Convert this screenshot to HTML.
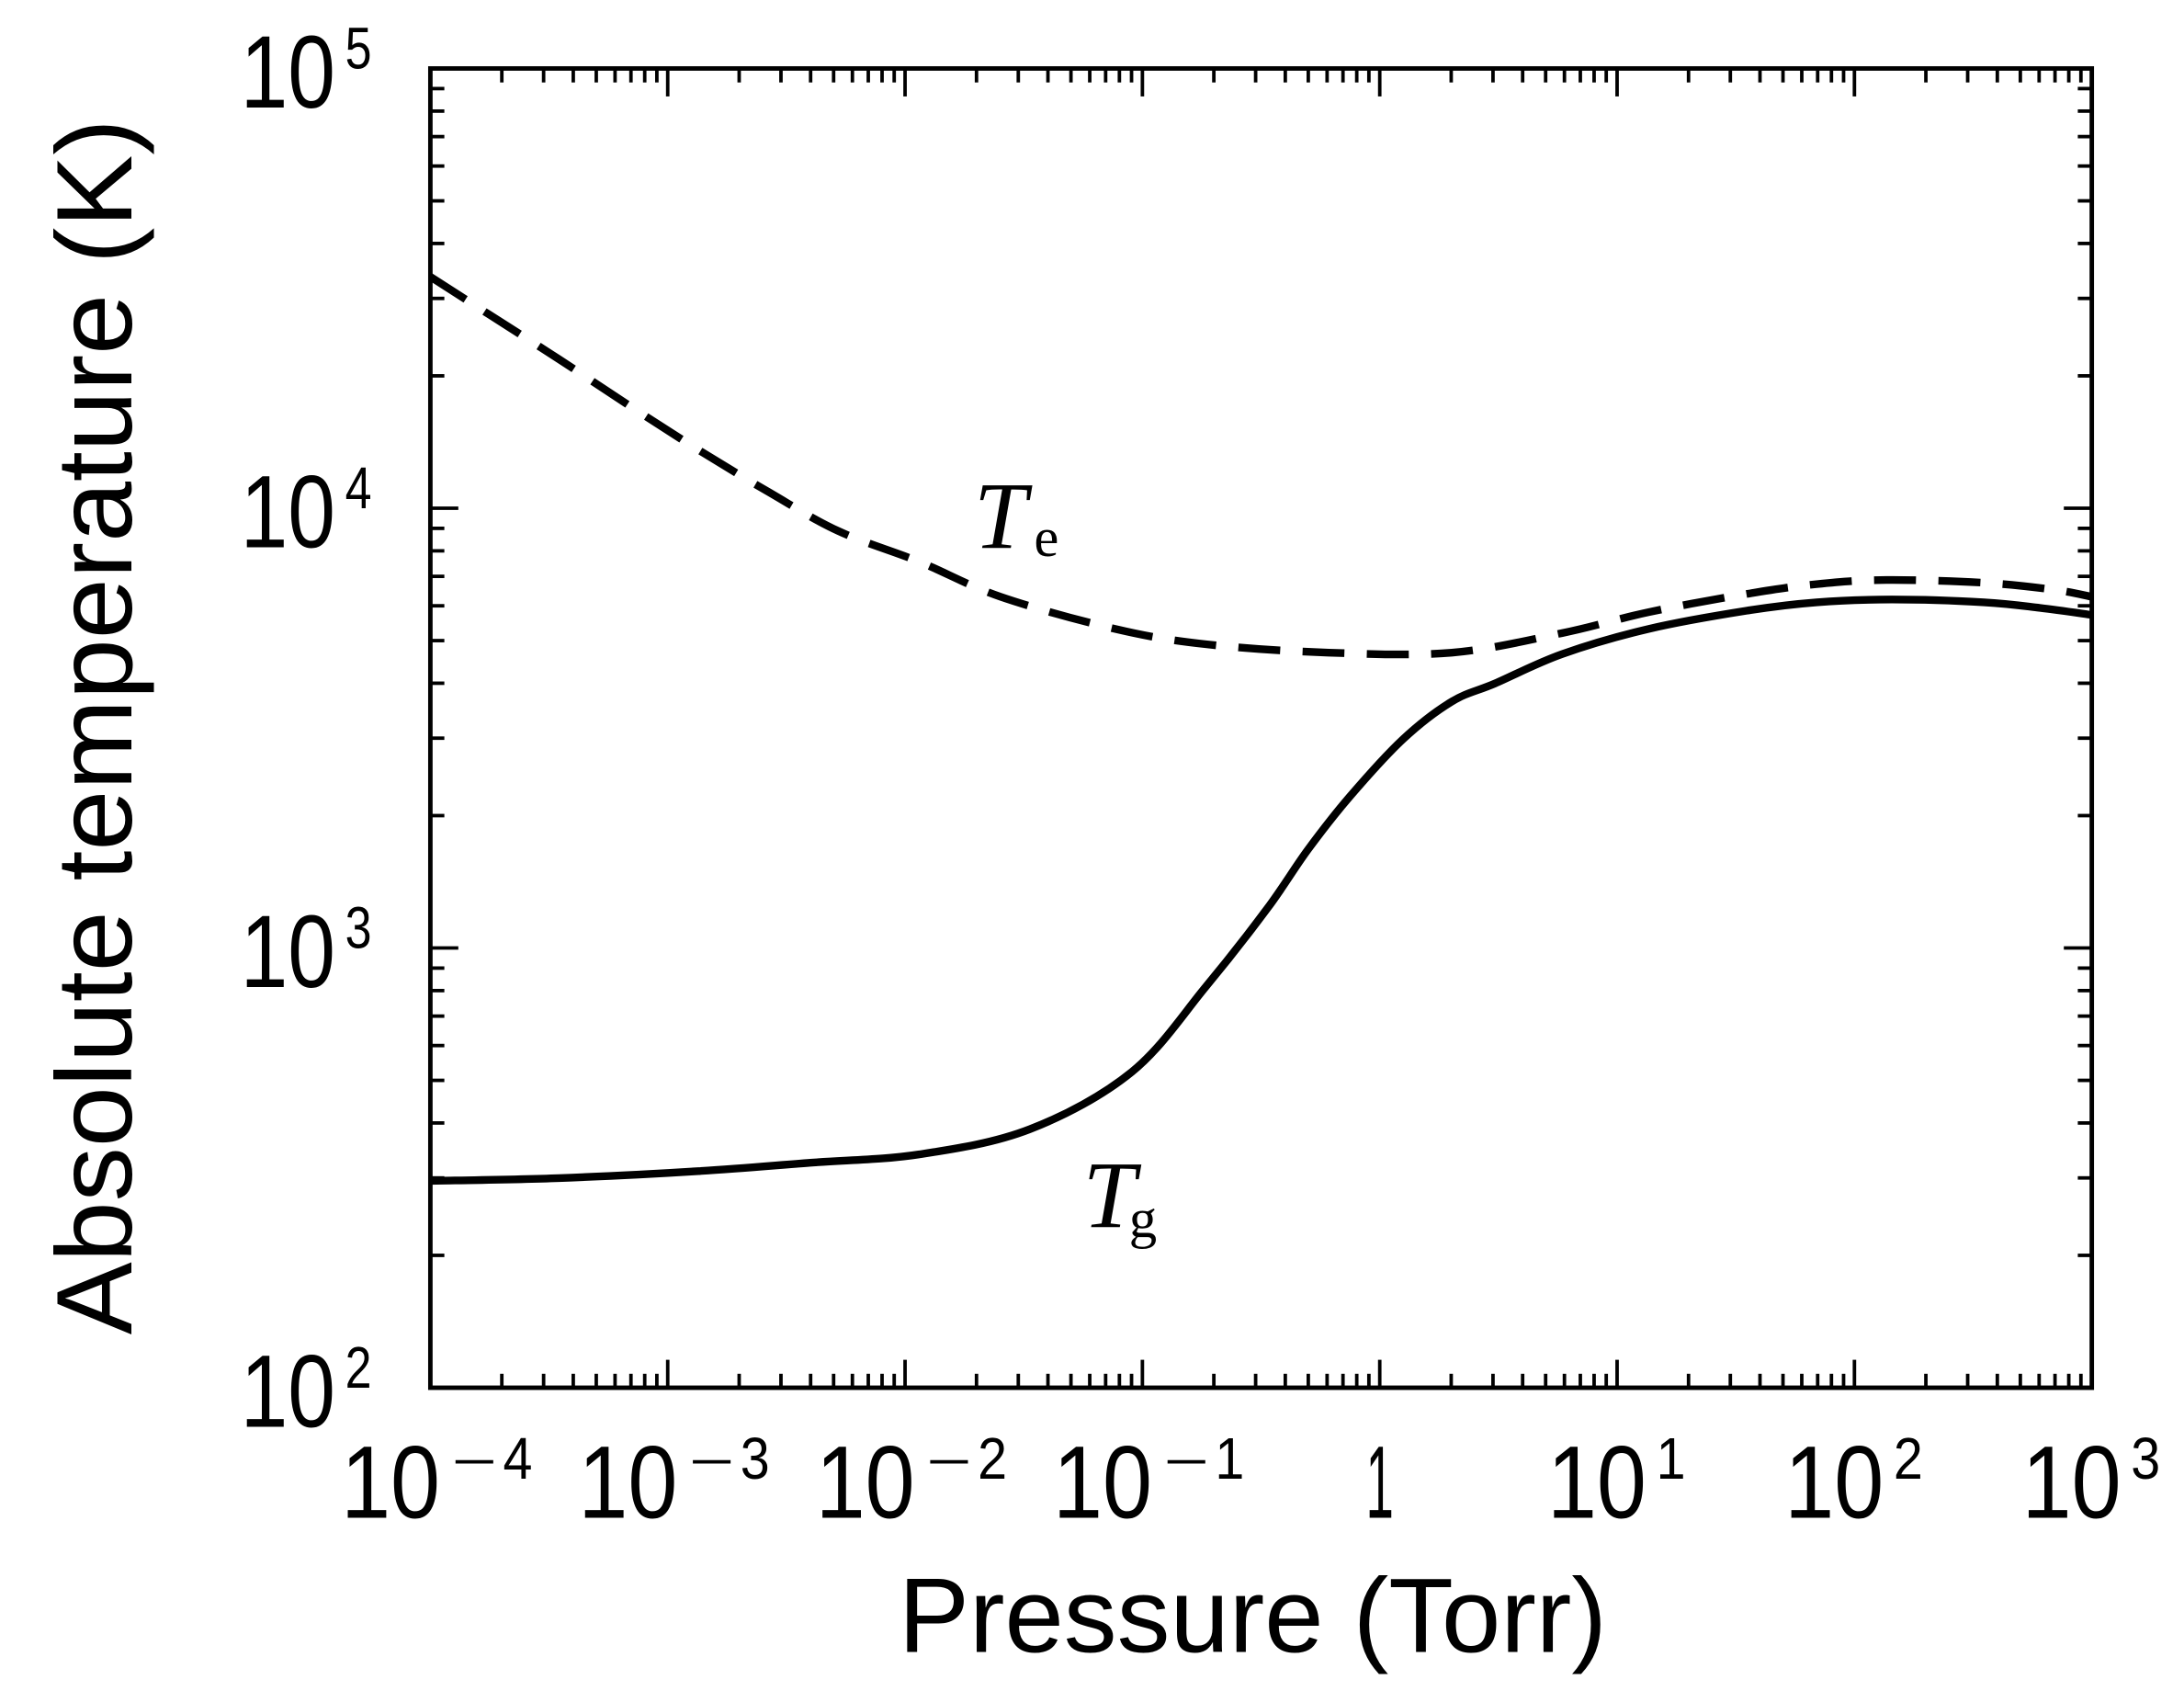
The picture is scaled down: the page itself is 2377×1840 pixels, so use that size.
<!DOCTYPE html>
<html><head><meta charset="utf-8"><style>html,body{margin:0;padding:0;background:#fff}svg{display:block}</style></head>
<body>
<svg id="s" width="2377" height="1840" viewBox="0 0 1563 1210" preserveAspectRatio="none" xmlns="http://www.w3.org/2000/svg" font-family="Liberation Sans, sans-serif">
<rect width="1563" height="1210" fill="#fff"/>
<g id="ticks" stroke="#000" stroke-width="2.5"></g>
<rect x="308" y="49" width="1189" height="944" fill="none" stroke="#000" stroke-width="3.2"/>
<path id="te" fill="none" stroke="#000" stroke-width="5.5" stroke-dasharray="30,16"/>
<path id="tg" fill="none" stroke="#000" stroke-width="5.5" stroke-linejoin="round"/>
<g font-family="Liberation Serif, serif" font-style="italic" fill="#000">
<text x="697" y="392" font-size="68">T</text>
<text x="740" y="398" font-size="40" font-style="normal">e</text>
<text x="775" y="878" font-size="68">T</text>
<text x="808" y="885" font-size="40" font-style="normal">g</text>
</g>
<g id="labels" fill="#000"></g>
<text transform="translate(94,520) rotate(-90)" text-anchor="middle" font-size="77" textLength="870" lengthAdjust="spacingAndGlyphs">Absolute temperature (K)</text>
<text x="643" y="1182" font-size="76" textLength="507" lengthAdjust="spacingAndGlyphs">Pressure (Torr)</text>
</svg>
<script>
var NS="http://www.w3.org/2000/svg";
var L=308,R=1497,T=49,B=993,dx=(R-L)/7,dy=(B-T)/3;
var g=document.getElementById('ticks'),lab=document.getElementById('labels');
function line(x1,y1,x2,y2,w){var l=document.createElementNS(NS,'line');l.setAttribute('x1',x1);l.setAttribute('y1',y1);l.setAttribute('x2',x2);l.setAttribute('y2',y2);if(w)l.setAttribute('stroke-width',w);g.appendChild(l);}
function txt(x,y,s,fs,w){var t=document.createElementNS(NS,'text');t.setAttribute('x',x);t.setAttribute('y',y);t.setAttribute('font-size',fs);t.setAttribute('textLength',w);t.setAttribute('lengthAdjust','spacingAndGlyphs');t.textContent=s;lab.appendChild(t);}
for(var d=0;d<7;d++){for(var k=1;k<10;k++){var x=L+(d+Math.log10(k))*dx;var len=k==1?20:10;if(k==1&&d==0)continue;line(x,B,x,B-len);line(x,T,x,T+len);}}
for(var d=0;d<3;d++){for(var k=1;k<10;k++){var y=B-(d+Math.log10(k))*dy;var len=k==1?20:10;if(k==1&&d==0)continue;line(L,y,L+len,y);line(R,y,R-len,y);}}
var ex=[-4,-3,-2,-1,0,1,2,3];
for(var i=0;i<8;i++){var c=L+i*dx,bl=1086;
 if(ex[i]==0){txt(c-10,bl,'1',74,20);continue;}
 if(ex[i]<0){txt(c-64,bl,'10',74,71);line(c+18,bl-40,c+45,bl-40,2.5);txt(c+52,bl-28,String(-ex[i]),42,21);}
 else{txt(c-50,bl,'10',74,71);txt(c+28,bl-28,String(ex[i]),42,21);}}
for(var j=0;j<4;j++){var y=B-j*dy,bl=y+28;txt(172,bl,'10',74,68);txt(247,bl-28,String(2+j),42,19);}
function cr(p){var s='M'+p[0][0]+','+p[0][1];for(var i=0;i<p.length-1;i++){var p0=p[i-1]||p[i],p1=p[i],p2=p[i+1],p3=p[i+2]||p2;
 s+=' C'+(p1[0]+(p2[0]-p0[0])/6)+','+(p1[1]+(p2[1]-p0[1])/6)+' '+(p2[0]-(p3[0]-p1[0])/6)+','+(p2[1]-(p3[1]-p1[1])/6)+' '+p2[0]+','+p2[1];}return s;}
var te=[[308,198],[350,225],[400,257],[450,290],[500,322],[550,352],[600,380],[658,402],[716,427],[798,450],[863,461],[951,467],[1039,467],[1118,453],[1180,438],[1250,425],[1300,418],[1350,415],[1420,417],[1470,422],[1497,427]];
var tg=[[308,845],[400,843],[500,838],[580,832],[658,826],[737,808],[810,767],[863,706],[907,650],[936,608],[966,570],[1004,529],[1039,502],[1070,489],[1118,468],[1180,450],[1250,437],[1300,431],[1354,429],[1420,431],[1460,435],[1497,440]];
document.getElementById('te').setAttribute('d',cr(te));
document.getElementById('tg').setAttribute('d',cr(tg));
</script>
</body></html>
